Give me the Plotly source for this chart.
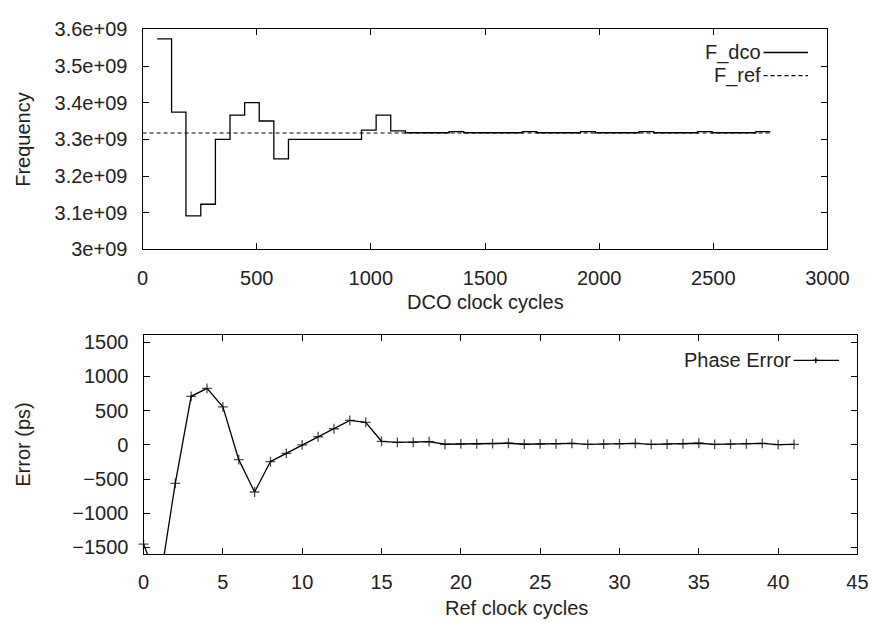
import plotly.graph_objects as go

# ---------------- data ----------------
# Top panel: DCO frequency (step per reference cycle), x = DCO clock cycles
dco_cycle_start = [64, 127, 190, 255, 319, 383, 447, 511, 575, 639, 703, 767, 831, 895,
                   959, 1023, 1087, 1151, 1215, 1279, 1343, 1407, 1471, 1535, 1599, 1663,
                   1727, 1791, 1855, 1919, 1983, 2047, 2111, 2175, 2239, 2303, 2367, 2431,
                   2495, 2559, 2623, 2687]
dco_end = 2750
f_dco = [3.574e9, 3.374e9, 3.0915e9, 3.123e9, 3.300e9, 3.366e9, 3.400e9, 3.350e9,
         3.247e9, 3.300e9, 3.300e9, 3.300e9, 3.300e9, 3.300e9, 3.325e9, 3.366e9,
         3.323e9, 3.318e9, 3.318e9, 3.318e9, 3.321e9, 3.318e9, 3.318e9, 3.318e9,
         3.318e9, 3.321e9, 3.318e9, 3.318e9, 3.318e9, 3.321e9, 3.318e9, 3.318e9,
         3.318e9, 3.321e9, 3.318e9, 3.318e9, 3.318e9, 3.321e9, 3.318e9, 3.318e9,
         3.318e9, 3.321e9]
f_ref_x = [0, 2750]
f_ref_val = 3.3175e9

freq_tickvals = [3.0e9, 3.1e9, 3.2e9, 3.3e9, 3.4e9, 3.5e9, 3.6e9]
freq_ticktext = ["3e+09", "3.1e+09", "3.2e+09", "3.3e+09", "3.4e+09", "3.5e+09", "3.6e+09"]

# Bottom panel: phase error (ps) per reference clock cycle
ref_cycles = list(range(42))
phase_err = [-1450, -2050, -563, 708, 825, 553, -217, -690, -245, -127,
             0, 117, 234, 356, 328, 51, 35, 35, 45, 8,
             12, 15, 18, 22, 8, 12, 15, 20, 5, 10,
             14, 20, 5, 10, 15, 22, 5, 10, 15, 20,
             3, 5]

# ---------------- figure ----------------
W, H = 894, 629
FONT = "Liberation Sans, Arial, sans-serif"
FS = 20
TXT = "#222222"

def px(x):
    return x / W

def py(y):
    return 1 - y / H

fig = go.Figure()

# F_dco step line
fig.add_trace(go.Scatter(
    x=dco_cycle_start + [dco_end],
    y=f_dco + [f_dco[-1]],
    mode="lines", line=dict(color="black", width=1.3, shape="hv"),
    xaxis="x", yaxis="y", showlegend=False, name="F_dco"))

# F_ref dashed line
fig.add_trace(go.Scatter(
    x=f_ref_x, y=[f_ref_val] * len(f_ref_x),
    mode="lines", line=dict(color="black", width=1.1, dash="4px,3px"),
    xaxis="x", yaxis="y", showlegend=False, name="F_ref"))

# Phase error line
fig.add_trace(go.Scatter(
    x=ref_cycles, y=phase_err, mode="lines",
    line=dict(color="black", width=1.3),
    xaxis="x2", yaxis="y2", showlegend=False, name="Phase Error"))

# Phase error markers (only those within plotted range)
msize = [7 if -1600 <= v <= 1600 else 0 for v in phase_err]
fig.add_trace(go.Scatter(
    x=ref_cycles, y=phase_err, mode="markers",
    marker=dict(symbol="cross-thin", size=msize, line=dict(color="black", width=1.3)),
    cliponaxis=False,
    xaxis="x2", yaxis="y2", showlegend=False, name="Phase Error"))

axis_common = dict(
    showline=True, linecolor="black", linewidth=1.3, mirror="allticks",
    ticks="inside", ticklen=6, tickwidth=1, tickcolor="black",
    showgrid=False, zeroline=False,
    tickfont=dict(family=FONT, size=FS, color=TXT),
    ticklabelstandoff=10,
)

fig.update_layout(
    width=W, height=H,
    margin=dict(l=0, r=0, t=0, b=0),
    paper_bgcolor="white", plot_bgcolor="white",
    showlegend=False,
    xaxis=dict(domain=[px(141), px(848)], range=[0, 3000], dtick=500, tick0=0,
               anchor="y", **axis_common),
    yaxis=dict(domain=[py(247), py(19)], range=[3.0e9, 3.6e9],
               tickvals=freq_tickvals, ticktext=freq_ticktext,
               anchor="x", **axis_common),
    xaxis2=dict(domain=[px(142), px(879)], range=[0, 45], dtick=5, tick0=0,
                anchor="y2", **axis_common),
    yaxis2=dict(domain=[py(563), py(336)], range=[-1600, 1600], dtick=500, tick0=0,
                anchor="x2", **axis_common),
)

def ann(text, x, y, xanchor="center", angle=0):
    fig.add_annotation(text=text, x=px(x), y=py(y), xref="paper", yref="paper",
                       showarrow=False, xanchor=xanchor, yanchor="middle",
                       textangle=angle,
                       font=dict(family=FONT, size=FS, color=TXT))

# axis titles
ann("Frequency", 18, 133, angle=-90)
ann("DCO clock cycles", 495, 302)
ann("Error (ps)", 18, 449, angle=-90)
ann("Ref clock cycles", 527, 619)

# legends (text right-aligned, sample to the right)
ann("F_dco", 781, 43, xanchor="right")
ann("F_ref", 781, 67, xanchor="right")
ann("Phase Error", 812, 362, xanchor="right")

def seg(x0, y0, x1, y1, dash=None, width=1.3):
    fig.add_shape(type="line", xref="paper", yref="paper",
                  x0=px(x0), y0=py(y0), x1=px(x1), y1=py(y1),
                  line=dict(color="black", width=width, dash=dash))

seg(782, 43, 828, 43)
seg(782, 67, 828, 67, dash="4px,3px", width=1.1)
seg(813, 362, 860, 362)
seg(833, 362, 839, 362)
seg(836, 359, 836, 365)

fig.write_html("out.html")
